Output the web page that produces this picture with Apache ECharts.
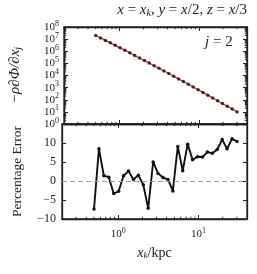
<!DOCTYPE html>
<html><head><meta charset="utf-8">
<script src="https://cdn.jsdelivr.net/npm/echarts@6/dist/echarts.min.js"></script>
<style>html,body{margin:0;padding:0;background:#fff}#c{width:257px;height:274px}</style>
</head><body><div id="c"></div>
<script>
// x positions (kpc)
var xVals = [0.500,0.576,0.663,0.764,0.880,1.013,1.166,1.343,1.547,1.781,2.051,2.362,2.720,3.133,3.608,4.155,4.786,5.511,6.347,7.310,8.418,9.696,11.17,12.86,14.81,17.06,19.65,22.62,26.06,30.00];
// -rho dPhi/dx_j
var forceVals = [2.0e7,1.25e7,7.87e6,4.92e6,3.07e6,1.91e6,1.19e6,7.35e5,4.54e5,2.79e5,1.72e5,1.05e5,6.43e4,3.92e4,2.38e4,1.44e4,8730,5267,3170,1902,1139,679,405,240,142,84.1,49.6,29.1,17.1,10.0];
// percentage error
var errVals = [-7.4,8.5,1.4,1.0,-3.3,-2.7,1.4,2.6,0.4,1.5,-1.0,-7.2,5.0,2.0,0.9,0.4,-2.6,9.1,2.7,9.7,5.6,6.4,6.3,7.6,7.3,8.3,10.9,8.5,11.1,10.4];
var xMinorTicks = [0.3,0.4,0.5,0.6,0.7,0.8,0.9,2,3,4,5,6,7,8,9,20,30];
var yMinorMult = [2,3,4,5,6,7,8,9];
var yDecades = [1,10,100,1e3,1e4,1e5,1e6,1e7];

var SERIF = '"Liberation Serif","DejaVu Serif",serif';
var L = 62, R = 10;
var top1 = 27, h1 = 97, top2 = 124, h2 = 95;

function pairs(a,b){return a.map(function(v,i){return [v,b[i]];});}
function powLabelParity(parity){
  return function(v){
    var e = Math.log10(v); var r = Math.round(e);
    if (Math.abs(e-r) > 1e-6) return '';
    if (parity !== null && ((r % 2) + 2) % 2 !== parity) return '';
    return '{b|10}{s|' + r + '}';
  };
}
var richPow = {
  b:{fontFamily:SERIF,fontSize:11,color:'#222',lineHeight:10},
  s:{fontFamily:SERIF,fontSize:8,color:'#222',padding:[0,0,7,0],lineHeight:10}
};
var tickIn = {show:true,inside:true,length:4,lineStyle:{color:'#222',width:1}};
var lineSt = {show:true,onZero:false,lineStyle:{color:'#222',width:1.3}};

// minor ticks data
var minorTop = [], minorBot = [];
xMinorTicks.forEach(function(v){ minorTop.push([v,1,0]); minorBot.push([v,0,0]); });
yDecades.forEach(function(d){ yMinorMult.forEach(function(m){ minorTop.push([1,d*m,1]); }); });

function minorRender(params, api){
  var cs = params.coordSys;
  var kind = api.value(2);
  var len = 2.2, st = {stroke:'#222', lineWidth:1};
  if (kind === 0){
    var px = api.coord([api.value(0), api.value(1)])[0];
    return {type:'group',children:[
      {type:'line',shape:{x1:px,y1:cs.y+cs.height,x2:px,y2:cs.y+cs.height-len},style:st},
      {type:'line',shape:{x1:px,y1:cs.y,x2:px,y2:cs.y+len},style:st}
    ]};
  } else {
    var py = api.coord([api.value(0), api.value(1)])[1];
    return {type:'group',children:[
      {type:'line',shape:{x1:cs.x,y1:py,x2:cs.x+len,y2:py},style:st},
      {type:'line',shape:{x1:cs.x+cs.width,y1:py,x2:cs.x+cs.width-len,y2:py},style:st}
    ]};
  }
}

var yLogAxis = {type:'log',gridIndex:0,min:1,max:1e8,axisLine:lineSt,axisTick:tickIn,splitLine:{show:false}};

var chart = echarts.init(document.getElementById('c'), null, {renderer:'canvas'});
chart.setOption({
  animation:false,
  backgroundColor:'#fff',
  grid:[
    {left:L,right:R,top:top1,height:h1,show:true,borderColor:'#222',borderWidth:1.3,backgroundColor:'transparent'},
    {left:L,right:R,top:top2,height:h2,show:true,borderColor:'#222',borderWidth:1.3,backgroundColor:'transparent'}
  ],
  xAxis:[
    {type:'log',gridIndex:0,min:0.2,max:40,position:'bottom',axisLine:lineSt,axisTick:tickIn,axisLabel:{show:false},splitLine:{show:false}},
    {type:'log',gridIndex:0,min:0.2,max:40,position:'top',axisLine:lineSt,axisTick:tickIn,axisLabel:{show:false},splitLine:{show:false}},
    {type:'log',gridIndex:1,min:0.2,max:40,position:'bottom',axisLine:lineSt,axisTick:tickIn,splitLine:{show:false},
      axisLabel:{show:true,margin:10,interval:0,hideOverlap:false,formatter:powLabelParity(null),rich:richPow,showMinLabel:false,showMaxLabel:false},
      name:'{i|x}{sub|k}{n|/kpc}',nameLocation:'middle',nameGap:27,
      nameTextStyle:{rich:{
        i:{fontFamily:SERIF,fontStyle:'italic',fontSize:14,color:'#222'},
        sub:{fontFamily:SERIF,fontStyle:'italic',fontSize:9,color:'#222',padding:[5,0,0,0]},
        n:{fontFamily:SERIF,fontSize:14,color:'#222'}
      }}},
    {type:'log',gridIndex:1,min:0.2,max:40,position:'top',axisLine:lineSt,axisTick:tickIn,axisLabel:{show:false},splitLine:{show:false}}
  ],
  yAxis:[
    Object.assign({}, yLogAxis, {position:'left',
      axisLabel:{show:true,margin:5,interval:0,hideOverlap:false,formatter:powLabelParity(0),rich:richPow,showMinLabel:true,showMaxLabel:true},
      name:'{t|\u2212\u03c1\u2202\u03a6/\u2202}{i|x}{sub|j}',nameLocation:'middle',nameRotate:90,nameGap:41,
      nameTextStyle:{rich:{
        t:{fontFamily:SERIF,fontStyle:'italic',fontSize:15,color:'#222'},
        i:{fontFamily:SERIF,fontStyle:'italic',fontSize:15,color:'#222'},
        sub:{fontFamily:SERIF,fontStyle:'italic',fontSize:10,color:'#222',padding:[5,0,0,0]}
      }}}),
    Object.assign({}, yLogAxis, {position:'right',axisLabel:{show:false}}),
    {type:'value',gridIndex:1,min:-10,max:15,interval:5,position:'left',axisLine:lineSt,axisTick:tickIn,splitLine:{show:false},
      axisLabel:{show:true,margin:6,fontFamily:SERIF,fontSize:12,color:'#222',
        formatter:function(v){ if (v>12) return ''; return v<0 ? '\u2212'+(-v) : ''+v; }},
      name:'Percentage Error',nameLocation:'middle',nameRotate:90,nameGap:38,
      nameTextStyle:{fontFamily:SERIF,fontSize:13.5,color:'#222'}},
    {type:'value',gridIndex:1,min:-10,max:15,interval:5,position:'right',axisLine:lineSt,axisTick:tickIn,axisLabel:{show:false},splitLine:{show:false}},
    Object.assign({}, yLogAxis, {position:'left',axisLine:{show:false,onZero:false},axisTick:{show:false},
      axisLabel:{show:true,margin:5,interval:0,hideOverlap:false,formatter:powLabelParity(1),rich:richPow,showMinLabel:false,showMaxLabel:false}})
  ],
  series:[
    {type:'line',xAxisIndex:0,yAxisIndex:0,data:pairs(xVals,forceVals),showSymbol:false,symbol:'none',
      lineStyle:{color:'#e8191e',width:1.2},z:3},
    {type:'scatter',xAxisIndex:0,yAxisIndex:0,data:pairs(xVals,forceVals),symbol:'circle',symbolSize:3.5,
      itemStyle:{color:'#111'},z:4},
    {type:'line',xAxisIndex:2,yAxisIndex:2,data:pairs(xVals,errVals),symbol:'circle',symbolSize:3.5,showSymbol:true,
      lineStyle:{color:'#111',width:1.9},itemStyle:{color:'#111'},z:4,
      markLine:{silent:true,symbol:'none',label:{show:false},
        lineStyle:{color:'#999',type:[5,3],width:1.2},data:[{yAxis:0}]}},
    {type:'custom',xAxisIndex:0,yAxisIndex:0,data:minorTop,renderItem:minorRender,z:5,silent:true},
    {type:'custom',xAxisIndex:2,yAxisIndex:2,data:minorBot,renderItem:minorRender,z:5,silent:true}
  ],
  graphic:[
    {type:'text',right:R,top:3,style:{
      text:'{i|x}{e| = }{i|x}{sub|k}{i|, y}{e| = }{i|x}{e|/2}{i|, z}{e| = }{i|x}{e|/3}',
      rich:{
        i:{fontFamily:SERIF,fontStyle:'italic',fontSize:15,fill:'#222'},
        e:{fontFamily:SERIF,fontSize:15,fill:'#222'},
        sub:{fontFamily:SERIF,fontStyle:'italic',fontSize:10,fill:'#222',padding:[6,0,0,0]}
      }}},
    {type:'text',left:205,top:35,style:{
      text:'{i|j}{e| = 2}',
      rich:{i:{fontFamily:SERIF,fontStyle:'italic',fontSize:15,fill:'#222'},e:{fontFamily:SERIF,fontSize:15,fill:'#222'}}}}
  ]
});
</script></body></html>
